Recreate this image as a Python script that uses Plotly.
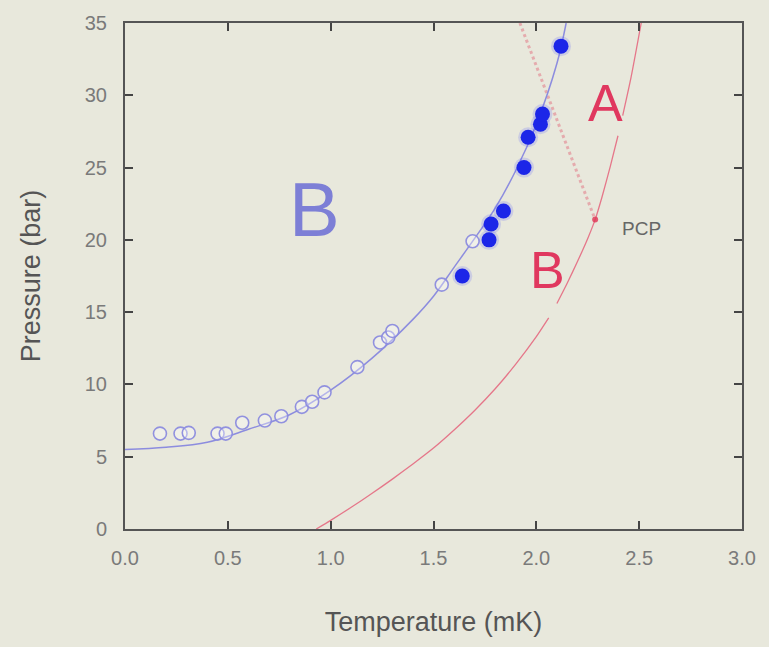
import plotly.graph_objects as go

# Superfluid 3He phase diagram: A-B transition and B-phase data (pressure vs temperature)

# Open-circle measurements (mK, bar)
open_T = [0.17, 0.27, 0.31, 0.45, 0.49, 0.57, 0.68, 0.76, 0.86, 0.91, 0.97,
          1.13, 1.24, 1.28, 1.30, 1.54, 1.69]
open_P = [6.6, 6.6, 6.65, 6.6, 6.6, 7.35, 7.5, 7.8, 8.45, 8.8, 9.45,
          11.2, 12.9, 13.25, 13.7, 16.9, 19.9]

# Filled-circle measurements (mK, bar)
fill_T = [1.64, 1.77, 1.78, 1.84, 1.94, 1.96, 2.02, 2.03, 2.12]
fill_P = [17.5, 20.0, 21.1, 22.0, 25.0, 27.1, 28.0, 28.7, 33.4]

# Fitted curve through the measurements
fit_T = [0.0, 0.2, 0.4, 0.6, 0.8, 1.0, 1.2, 1.4, 1.5, 1.6, 1.7, 1.8, 1.9,
         2.0, 2.1, 2.145]
fit_P = [5.5, 5.65, 6.0, 6.9, 7.9, 9.6, 11.8, 14.5, 16.1, 18.1, 20.1, 22.2,
         24.8, 28.0, 32.2, 35.0]

# A-B transition line (None = break in the line)
ab_T = [0.93, 1.00, 1.10, 1.20, 1.30, 1.40, 1.50, 1.60, 1.70, 1.80, 1.90,
        2.00, 2.06, None, 2.10, 2.15, 2.20, 2.25, 2.286, 2.32, 2.36, 2.397,
        None, 2.42, 2.46, 2.51]
ab_P = [0.0, 0.6, 1.5, 2.45, 3.45, 4.5, 5.6, 6.85, 8.2, 9.7, 11.4,
        13.3, 14.6, None, 15.6, 17.0, 18.5, 20.1, 21.4, 23.0, 25.1, 27.2,
        None, 28.6, 31.2, 35.0]

# Dotted extension from the polycritical point
ext_T = [1.92, 2.286]
ext_P = [35.0, 21.4]

# Polycritical point
pcp_T = [2.286]
pcp_P = [21.4]

x_ticks = [0.0, 0.5, 1.0, 1.5, 2.0, 2.5, 3.0]
y_ticks = [0, 5, 10, 15, 20, 25, 30, 35]

BG = "#e8e8dc"
FONT = "Liberation Sans, Arial, sans-serif"

fig = go.Figure()

fig.add_trace(go.Scatter(
    x=ext_T, y=ext_P, mode="lines",
    line=dict(color="rgba(225,120,135,0.55)", width=3, dash="dot"),
    hoverinfo="skip"))

fig.add_trace(go.Scatter(
    x=ab_T, y=ab_P, mode="lines", connectgaps=False,
    line=dict(color="rgba(228,80,110,0.75)", width=1.3, shape="spline",
              smoothing=0.6),
    hoverinfo="skip"))

fig.add_trace(go.Scatter(
    x=pcp_T, y=pcp_P, mode="markers",
    marker=dict(size=6, color="rgba(225,60,90,0.85)"),
    hoverinfo="skip"))

fig.add_trace(go.Scatter(
    x=fit_T, y=fit_P, mode="lines",
    line=dict(color="rgba(135,135,222,0.95)", width=1.5, shape="spline"),
    hoverinfo="skip"))

fig.add_trace(go.Scatter(
    x=open_T, y=open_P, mode="markers",
    marker=dict(size=13, color="rgba(255,255,255,0.35)",
                line=dict(color="rgba(140,140,222,0.95)", width=1.6)),
    hoverinfo="skip"))

# soft halo behind the filled points
fig.add_trace(go.Scatter(
    x=fill_T, y=fill_P, mode="markers",
    marker=dict(size=20, color="rgba(70,80,255,0.18)", line=dict(width=0)),
    hoverinfo="skip"))

fig.add_trace(go.Scatter(
    x=fill_T, y=fill_P, mode="markers",
    marker=dict(size=15, color="rgb(28,38,232)", line=dict(width=0)),
    hoverinfo="skip"))

annotations = [
    dict(x=0.923, y=22.1, text="B", font=dict(size=76, color="rgb(125,127,214)")),
    dict(x=2.335, y=29.5, text="A", font=dict(size=52, color="rgb(224,56,95)")),
    dict(x=2.055, y=17.9, text="B", font=dict(size=52, color="rgb(224,56,95)")),
    dict(x=2.51, y=20.8, text="PCP", font=dict(size=19, color="#666666")),
]
for a in annotations:
    a.update(xref="x", yref="y", showarrow=False, xanchor="center",
             yanchor="middle")
    a["font"]["family"] = FONT

axis_common = dict(
    showgrid=False, zeroline=False,
    showline=True, linecolor="#555555", linewidth=2, mirror="ticks",
    ticks="inside", ticklen=8, tickwidth=2, tickcolor="#444444",
    tickfont=dict(family=FONT, size=20, color="#7a7a7a"),
    title_font=dict(family=FONT, size=27, color="#555555"),
)

fig.update_layout(
    width=769, height=647,
    margin=dict(l=125, r=27, t=21, b=118),
    paper_bgcolor=BG, plot_bgcolor=BG,
    showlegend=False,
    annotations=annotations,
    xaxis=dict(range=[0, 3], tickvals=x_ticks, tickformat=".1f",
               title=dict(text="Temperature (mK)", standoff=44),
               ticklabelstandoff=10, **axis_common),
    yaxis=dict(range=[0, 35], tickvals=y_ticks,
               title=dict(text="Pressure (bar)", standoff=36),
               ticklabelstandoff=12, **axis_common),
)

fig.write_html("out.html")
